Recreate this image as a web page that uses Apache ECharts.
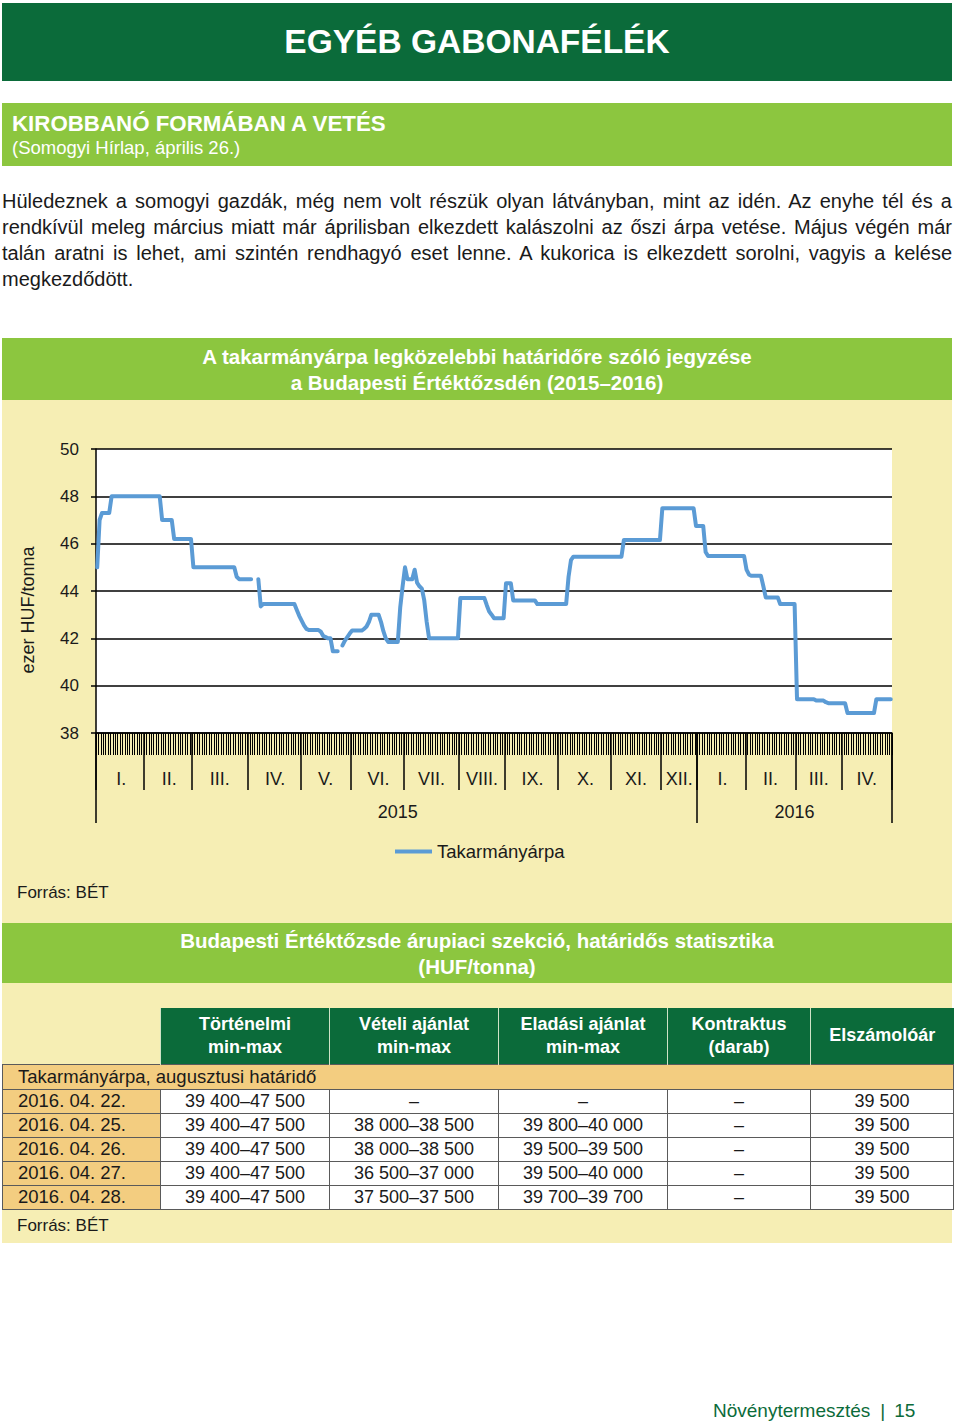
<!DOCTYPE html>
<html lang="hu">
<head>
<meta charset="utf-8">
<script src="https://cdn.jsdelivr.net/npm/echarts@6/dist/echarts.min.js"></script>
<style>
  html, body { margin:0; padding:0; background:#fff; }
  body { width:960px; height:1425px; position:relative; overflow:hidden;
         font-family:"Liberation Sans", Arial, Helvetica, sans-serif; color:#1a1a1a; }
  .abs { position:absolute; }
  .dark { background:#0b6b3a; }
  .light { background:#8cc63f; }
  .yellow { background:#f6eeb4; }
  .para { left:2px; top:188px; width:950px; font-size:20px; line-height:26px; }
  .jl { text-align:justify; text-align-last:justify; white-space:nowrap; }
  table { border-collapse:collapse; table-layout:fixed; }
  td { padding:0; font-size:18px; text-align:center; white-space:nowrap; }
  th { padding:0; font-size:18px; font-weight:bold; color:#fff; background:#0b6b3a;
       border-left:1px solid #cfe2c6; line-height:23px; }
  .date { background:#f3cd80; text-align:left; padding-left:15px; font-size:18.5px; }
  .val { background:#fff; }
  tr.d td { height:23px; border:1px solid #5a5a5a; }
</style>
</head>
<body>
<div class="abs dark" style="left:2px;top:3px;width:950px;height:78px;"></div>
<div class="abs" style="left:2px;top:3px;width:950px;height:78px;line-height:78px;text-align:center;color:#fff;font-size:33.5px;font-weight:bold;">EGYÉB GABONAFÉLÉK</div>

<div class="abs light" style="left:2px;top:103px;width:950px;height:63px;"></div>
<div class="abs" style="left:12px;top:112px;line-height:24px;color:#fff;font-size:22.3px;font-weight:bold;">KIROBBANÓ FORMÁBAN A VETÉS</div>
<div class="abs" style="left:12px;top:137px;line-height:22px;color:#fff;font-size:18.5px;">(Somogyi Hírlap, április 26.)</div>

<div class="abs para">
  <div class="jl">Hüledeznek a somogyi gazdák, még nem volt részük olyan látványban, mint az idén. Az enyhe tél és a</div>
  <div class="jl">rendkívül meleg március miatt már áprilisban elkezdett kalászolni az őszi árpa vetése. Május végén már</div>
  <div class="jl">talán aratni is lehet, ami szintén rendhagyó eset lenne. A kukorica is elkezdett sorolni, vagyis a kelése</div>
  <div>megkezdődött.</div>
</div>

<div class="abs light" style="left:2px;top:338px;width:950px;height:62px;"></div>
<div class="abs" style="left:2px;top:344px;width:950px;line-height:26px;text-align:center;color:#fff;font-size:20.5px;font-weight:bold;">A takarmányárpa legközelebbi határidőre szóló jegyzése<br>a Budapesti Értéktőzsdén (2015–2016)</div>

<div class="abs yellow" style="left:2px;top:400px;width:950px;height:843px;"></div>

<div id="chart" class="abs" style="left:0;top:400px;width:960px;height:480px;"></div>
<div class="abs" style="left:-42px;top:600px;width:140px;height:20px;line-height:20px;text-align:center;font-size:18px;transform:rotate(-90deg);">ezer HUF/tonna</div>

<div class="abs" style="left:17px;top:883px;line-height:20px;font-size:17px;">Forrás: BÉT</div>

<div class="abs light" style="left:2px;top:923px;width:950px;height:60px;"></div>
<div class="abs" style="left:2px;top:928px;width:950px;line-height:25.5px;text-align:center;color:#fff;font-size:20.5px;font-weight:bold;">Budapesti Értéktőzsde árupiaci szekció, határidős statisztika<br>(HUF/tonna)</div>

<table class="abs" style="left:2px;top:1008px;width:951px;">
  <colgroup><col style="width:158px"><col style="width:169px"><col style="width:169px"><col style="width:169px"><col style="width:143px"><col style="width:143px"></colgroup>
  <tr style="height:56px;">
    <td style="background:transparent;border:none;"></td>
    <th>Történelmi<br>min-max</th>
    <th>Vételi ajánlat<br>min-max</th>
    <th>Eladási ajánlat<br>min-max</th>
    <th>Kontraktus<br>(darab)</th>
    <th>Elszámolóár</th>
  </tr>
  <tr style="height:25px;"><td colspan="6" class="date" style="border:1px solid #5a5a5a;height:24px;">Takarmányárpa, augusztusi határidő</td></tr>
  <tr class="d"><td class="date">2016. 04. 22.</td><td class="val">39 400–47 500</td><td class="val">–</td><td class="val">–</td><td class="val">–</td><td class="val">39 500</td></tr>
  <tr class="d"><td class="date">2016. 04. 25.</td><td class="val">39 400–47 500</td><td class="val">38 000–38 500</td><td class="val">39 800–40 000</td><td class="val">–</td><td class="val">39 500</td></tr>
  <tr class="d"><td class="date">2016. 04. 26.</td><td class="val">39 400–47 500</td><td class="val">38 000–38 500</td><td class="val">39 500–39 500</td><td class="val">–</td><td class="val">39 500</td></tr>
  <tr class="d"><td class="date">2016. 04. 27.</td><td class="val">39 400–47 500</td><td class="val">36 500–37 000</td><td class="val">39 500–40 000</td><td class="val">–</td><td class="val">39 500</td></tr>
  <tr class="d"><td class="date">2016. 04. 28.</td><td class="val">39 400–47 500</td><td class="val">37 500–37 500</td><td class="val">39 700–39 700</td><td class="val">–</td><td class="val">39 500</td></tr>
</table>

<div class="abs" style="left:17px;top:1216px;line-height:20px;font-size:17px;">Forrás: BÉT</div>

<div class="abs" style="left:713px;top:1399px;line-height:24px;font-size:19px;color:#0b6b3a;white-space:nowrap;">Növénytermesztés<span style="margin:0 9px 0 10px;">|</span>15</div>

<script>
// ---- DATA ----
const monthLabels = ['I.','II.','III.','IV.','V.','VI.','VII.','VIII.','IX.','X.','XI.','XII.','I.','II.','III.','IV.'];
const yearLabels = ['2015','2016'];
const monthsPerYear = [12, 4];
const seriesName = 'Takarmányárpa';
const yTickValues = [38, 40, 42, 44, 46, 48, 50];

// daily closing prices (ezer HUF/tonna), one array per month, trading days
const p2015_01 = [45.0,47.0,47.3,47.3,47.3,47.3,48.0,48.0,48.0,48.0,48.0,48.0,48.0,48.0,48.0,48.0,48.0,48.0,48.0,48.0];
const p2015_02 = [48.0,48.0,48.0,48.0,48.0,48.0,48.0,47.0,47.0,47.0,47.0,47.0,46.2,46.2,46.2,46.2,46.2,46.2,46.2,46.2];
const p2015_03 = [45.0,45.0,45.0,45.0,45.0,45.0,45.0,45.0,45.0,45.0,45.0,45.0,45.0,45.0,45.0,45.0,45.0,45.0,44.6,44.5,44.5,44.5,44.5];
const p2015_04 = [44.5,44.5,null,null,44.5,43.35,43.45,43.45,43.45,43.45,43.45,43.45,43.45,43.45,43.45,43.45,43.45,43.45,43.45,43.45,43.2,42.95];
const p2015_05 = [42.75,42.55,42.4,42.35,42.35,42.35,42.35,42.35,42.28,42.1,42.05,42.0,42.0,41.45,41.45,41.45,null,41.7,41.9,42.05,42.2];
const p2015_06 = [42.33,42.33,42.33,42.33,42.33,42.4,42.5,42.7,43.0,43.0,43.0,43.0,42.7,42.3,42.0,41.85,41.85,41.85,41.85,41.85,43.3,44.2];
const p2015_07 = [45.0,44.5,44.5,44.5,44.9,44.35,44.2,44.1,43.6,42.7,42.0,42.0,42.0,42.0,42.0,42.0,42.0,42.0,42.0,42.0,42.0,42.0,42.0];
const p2015_08 = [43.7,43.7,43.7,43.7,43.7,43.7,43.7,43.7,43.7,43.7,43.7,43.4,43.13,43.0,42.85,42.85,42.85,42.85,42.85];
const p2015_09 = [44.33,44.33,44.33,43.6,43.6,43.6,43.6,43.6,43.6,43.6,43.6,43.6,43.6,43.45,43.45,43.45,43.45,43.45,43.45,43.45,43.45,43.45];
const p2015_10 = [43.45,43.45,43.45,43.45,44.6,45.3,45.45,45.45,45.45,45.45,45.45,45.45,45.45,45.45,45.45,45.45,45.45,45.45,45.45,45.45,45.45,45.45];
const p2015_11 = [45.45,45.45,45.45,45.45,45.45,46.15,46.15,46.15,46.15,46.15,46.15,46.15,46.15,46.15,46.15,46.15,46.15,46.15,46.15,46.15,46.15];
const p2015_12 = [47.5,47.5,47.5,47.5,47.5,47.5,47.5,47.5,47.5,47.5,47.5,47.5,47.5,47.5,46.75];
const p2016_01 = [46.75,46.75,46.75,45.65,45.48,45.48,45.48,45.48,45.48,45.48,45.48,45.48,45.48,45.48,45.48,45.48,45.48,45.48,45.48,45.48];
const p2016_02 = [44.9,44.7,44.64,44.64,44.64,44.64,44.64,44.2,43.73,43.73,43.73,43.73,43.73,43.73,43.45,43.45,43.45,43.45,43.45,43.45,43.45];
const p2016_03 = [39.43,39.43,39.43,39.43,39.43,39.43,39.43,39.43,39.37,39.37,39.37,39.37,39.3,39.26,39.26,39.26,39.26,39.26,39.26];
const p2016_04 = [39.26,39.26,38.84,38.84,38.84,38.84,38.84,38.84,38.84,38.84,38.84,38.84,38.84,38.84,39.43,39.43,39.43,39.43,39.43,39.43,39.43];

const monthlyPrices = [p2015_01,p2015_02,p2015_03,p2015_04,p2015_05,p2015_06,p2015_07,p2015_08,
                       p2015_09,p2015_10,p2015_11,p2015_12,p2016_01,p2016_02,p2016_03,p2016_04];

// ---- build categories (one per trading day) ----
const categories = [], values = [];
const monthStart = new Set(), monthMid = new Map(), yearStart = new Set(), yearMid = new Map();
let idx = 0, m = 0;
monthsPerYear.forEach((cnt, y) => {
  const yStartIdx = idx;
  yearStart.add(idx);
  for (let k = 0; k < cnt; k++, m++) {
    const arr = monthlyPrices[m];
    monthStart.add(idx);
    monthMid.set(idx + Math.floor(arr.length / 2), monthLabels[m]);
    arr.forEach((v, d) => { categories.push(yearLabels[y] + '-' + monthLabels[m] + (d + 1)); values.push(v); idx++; });
  }
  yearMid.set(yStartIdx + Math.floor((idx - yStartIdx) / 2), yearLabels[y]);
});

const txt = '#1a1a1a';
const font = '"Liberation Sans", Arial, sans-serif';
const chart = echarts.init(document.getElementById('chart'), null, { renderer: 'svg' });
chart.setOption({
  animation: false,
  textStyle: { fontFamily: font },
  grid: { left: 96, top: 49, width: 796, height: 284, show: true, backgroundColor: '#ffffff', borderWidth: 0 },
  legend: {
    data: [seriesName], left: 390, top: 437, icon: 'rect', itemWidth: 37, itemHeight: 4,
    textStyle: { fontSize: 18.5, color: txt, fontFamily: font }
  },
  xAxis: [
    { type: 'category', data: categories, boundaryGap: true,
      axisLine: { show: true, lineStyle: { color: '#000', width: 1.5 } },
      axisTick: { show: true, interval: 0, length: 22, lineStyle: { color: '#000', width: 1 } },
      axisLabel: { show: false }, splitLine: { show: false } },
    { type: 'category', data: categories, position: 'bottom', boundaryGap: true,
      axisLine: { show: false },
      axisTick: { show: true, interval: (i) => monthStart.has(i), length: 57, lineStyle: { color: '#000', width: 1.5 } },
      axisLabel: { show: true, interval: (i) => monthMid.has(i), formatter: (v, i) => monthMid.get(i) || '',
                   margin: 37, fontSize: 18, color: txt, fontFamily: font },
      splitLine: { show: false } },
    { type: 'category', data: categories, position: 'bottom', boundaryGap: true,
      axisLine: { show: false },
      axisTick: { show: true, interval: (i) => yearStart.has(i), length: 90, lineStyle: { color: '#000', width: 1.5 } },
      axisLabel: { show: true, interval: (i) => yearMid.has(i), formatter: (v, i) => yearMid.get(i) || '',
                   margin: 70, fontSize: 18, color: txt, fontFamily: font },
      splitLine: { show: false } }
  ],
  yAxis: {
    type: 'value', min: yTickValues[0], max: yTickValues[yTickValues.length - 1], interval: 2,
    axisLine: { show: true, lineStyle: { color: '#000', width: 1.5 } },
    axisTick: { show: true, length: 5, lineStyle: { color: '#000', width: 1.5 } },
    splitLine: { show: true, lineStyle: { color: '#000', width: 1.5 } },
    axisLabel: { margin: 17, fontSize: 17, color: txt, fontFamily: font }
  },
  series: [{
    name: seriesName, type: 'line', data: values, xAxisIndex: 0, yAxisIndex: 0,
    symbol: 'none', showSymbol: false, connectNulls: false,
    lineStyle: { color: '#5b9bd5', width: 4, cap: 'round', join: 'round' },
    itemStyle: { color: '#5b9bd5' }
  }]
});
</script>
</body>
</html>
